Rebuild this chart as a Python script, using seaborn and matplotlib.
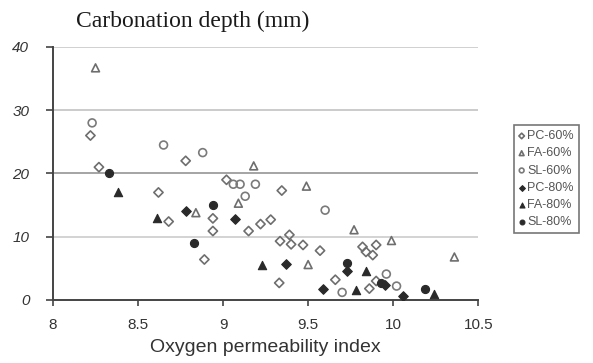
import matplotlib
matplotlib.use("Agg")
import matplotlib.pyplot as plt
import numpy as np
import pandas as pd
import seaborn as sns

# ---- data ----
series_names = ["PC-60%", "FA-60%", "SL-60%", "PC-80%", "FA-80%", "SL-80%"]

pc60_x = [8.22, 8.27, 8.78, 8.62, 8.68, 8.94, 8.94, 8.89, 9.02, 9.15, 9.22, 9.28, 9.345,
          9.33, 9.335, 9.39, 9.40, 9.47, 9.57, 9.66, 9.82, 9.84, 9.88, 9.90, 9.86, 9.90]
pc60_y = [26.0, 21.0, 22.0, 17.0, 12.4, 12.9, 10.9, 6.4, 19.0, 10.9, 12.0, 12.7, 17.3,
          2.7, 9.3, 10.3, 8.8, 8.7, 7.8, 3.2, 8.4, 7.6, 7.1, 8.7, 1.8, 3.0]

fa60_x = [8.25, 8.84, 9.09, 9.18, 9.49, 9.50, 9.77, 9.99, 10.36]
fa60_y = [36.7, 13.8, 15.3, 21.2, 18.0, 5.6, 11.1, 9.4, 6.8]

sl60_x = [8.23, 8.65, 8.88, 9.06, 9.10, 9.19, 9.13, 9.60, 9.96, 9.70, 10.02]
sl60_y = [28.0, 24.5, 23.3, 18.3, 18.3, 18.3, 16.4, 14.2, 4.1, 1.2, 2.2]

pc80_x = [8.78, 9.07, 9.37, 9.59, 9.73, 9.95, 10.06]
pc80_y = [14.0, 12.8, 5.7, 1.7, 4.6, 2.4, 0.6]

fa80_x = [8.38, 8.61, 9.23, 9.84, 9.78, 10.24]
fa80_y = [17.0, 12.9, 5.6, 4.6, 1.6, 0.9]

sl80_x = [8.33, 8.94, 8.83, 9.73, 9.93, 10.19]
sl80_y = [20.0, 15.0, 9.0, 5.9, 2.7, 1.7]

x_ticks = [8, 8.5, 9, 9.5, 10, 10.5]
x_tick_labels = ["8", "8.5", "9", "9.5", "10", "10.5"]
y_ticks = [0, 10, 20, 30, 40]
y_tick_labels = ["0", "10", "20", "30", "40"]

xs = [pc60_x, fa60_x, sl60_x, pc80_x, fa80_x, sl80_x]
ys = [pc60_y, fa60_y, sl60_y, pc80_y, fa80_y, sl80_y]
df = pd.concat([pd.DataFrame({"series": n, "opi": x, "depth": y})
                for n, x, y in zip(series_names, xs, ys)], ignore_index=True)

# ---- styles ----
styles = {
    "PC-60%": dict(marker="D", s=22, facecolors="none", edgecolor="#6e6e6e", linewidth=1.2),
    "FA-60%": dict(marker="^", s=32, facecolors="none", edgecolor="#6e6e6e", linewidth=1.2),
    "SL-60%": dict(marker="o", s=32, facecolors="none", edgecolor="#7a7a7a", linewidth=1.2),
    "PC-80%": dict(marker="D", s=24, facecolors="#2a2a2a", edgecolor="#2a2a2a", linewidth=0.8),
    "FA-80%": dict(marker="^", s=36, facecolors="#2a2a2a", edgecolor="#2a2a2a", linewidth=0.8),
    "SL-80%": dict(marker="o", s=34, facecolors="#2a2a2a", edgecolor="#2a2a2a", linewidth=0.8),
}

sns.set_style("white")
plt.rcParams["font.family"] = ["Liberation Sans", "DejaVu Sans"]

fig = plt.figure(figsize=(5.93, 3.63), dpi=100)
ax = fig.add_axes([0.0894, 0.1736, 0.717, 0.697])

for name in series_names:
    sns.scatterplot(data=df[df["series"] == name], x="opi", y="depth",
                    ax=ax, label=name, legend=False, zorder=3, **styles[name])

ax.set_xlim(8, 10.5)
ax.set_ylim(0, 40)
ax.set_xticks(x_ticks)
ax.set_xticklabels(x_tick_labels, fontsize=11, color="#333333")
ax.set_yticks(y_ticks)
ax.set_yticklabels(y_tick_labels, fontsize=11, style="italic", color="#333333")
ax.set_xlabel("Oxygen permeability index", fontsize=14, color="#333333", labelpad=5)
ax.set_ylabel("")

# horizontal grid lines
ax.grid(False)
grid_colors = {10: "#c8c8c8", 20: "#8c8c8c", 30: "#bdbdbd", 40: "#c4c4c4"}
for v, c in grid_colors.items():
    ax.axhline(v, color=c, linewidth=1.1, zorder=1)

for side in ["top", "right"]:
    ax.spines[side].set_visible(False)
for side in ["left", "bottom"]:
    ax.spines[side].set_color("#444444")
    ax.spines[side].set_linewidth(1.4)
    ax.spines[side].set_zorder(2)

ax.tick_params(axis="y", direction="out", length=5, width=1.2, color="#444444", pad=12, left=True)
ax.tick_params(axis="x", direction="out", length=4, width=1.2, color="#444444", pad=9, bottom=True)

fig.text(0.325, 0.94, "Carbonation depth (mm)", fontsize=17,
         family=["Liberation Serif", "DejaVu Serif"], color="#1a1a1a",
         ha="center", va="center")

handles, labels = ax.get_legend_handles_labels()
leg = fig.legend(handles, labels, loc="upper left", bbox_to_anchor=(0.866, 0.655),
                 fontsize=9, frameon=True, fancybox=False, edgecolor="#555555",
                 handlelength=0.5, handletextpad=0.2, labelspacing=0.42,
                 borderpad=0.4, markerscale=0.6, borderaxespad=0)
leg.get_frame().set_linewidth(1.2)
for t in leg.get_texts():
    t.set_color("#555555")

fig.savefig("out.png", dpi=100)
